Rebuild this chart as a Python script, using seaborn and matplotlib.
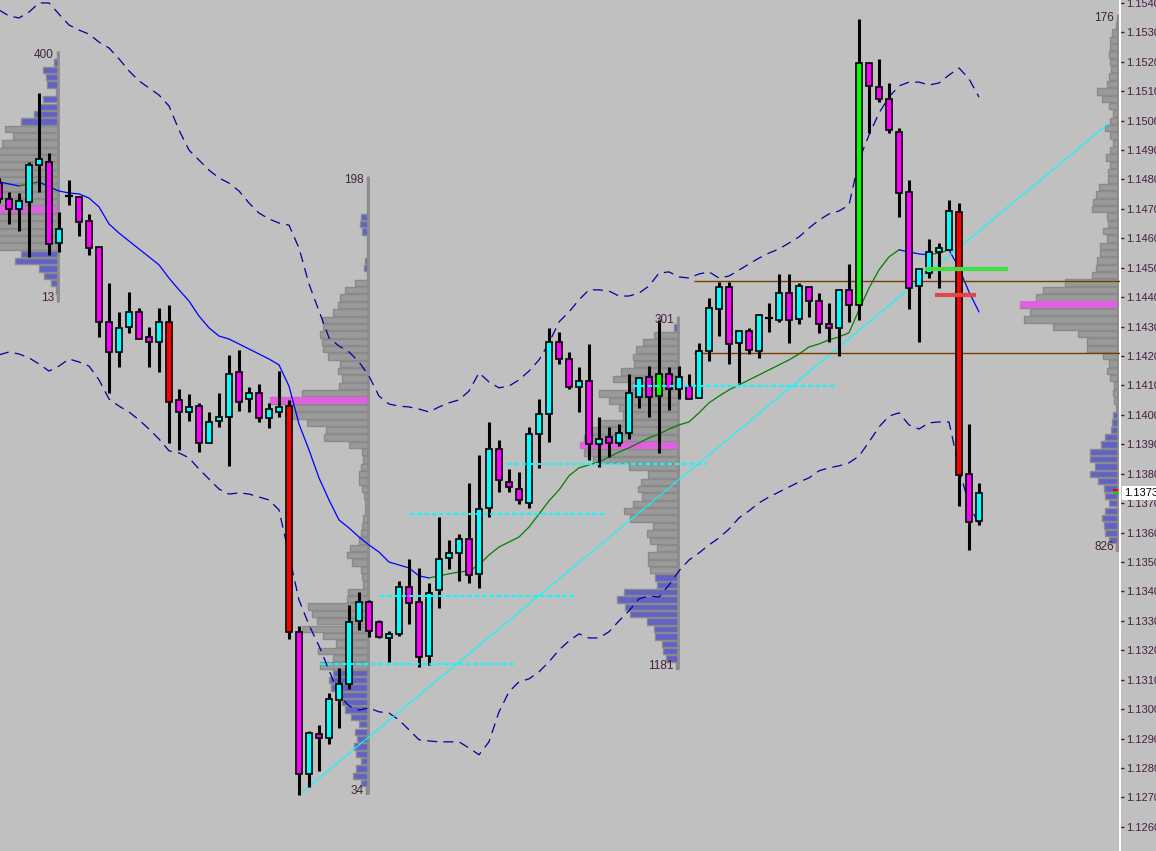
import numpy as np
import matplotlib
matplotlib.use("Agg")
import matplotlib.pyplot as plt
import matplotlib.transforms as mtransforms
import seaborn as sns

# ---------------------------------------------------------------- candles
opens = [
    1.14788, 1.14734, 1.14700, 1.14724, 1.14849, 1.14860, 1.14584, 1.14744, 1.14741, 1.14659,
    1.14571, 1.14316, 1.14214, 1.14299, 1.14350, 1.14265, 1.14248, 1.14316, 1.14051, 1.14010,
    1.14030, 1.13905, 1.13979, 1.13993, 1.14146, 1.14054, 1.14075, 1.13990, 1.14010, 1.14030,
    1.13263, 1.12780, 1.12916, 1.12902, 1.13031, 1.13086, 1.13300, 1.13364, 1.13296, 1.13242,
    1.13256, 1.13415, 1.13364, 1.13181, 1.13405, 1.13514, 1.13531, 1.13579, 1.13460, 1.13684,
    1.13884, 1.13772, 1.13748, 1.13701, 1.13935, 1.14003, 1.14248, 1.14190, 1.14095, 1.14115,
    1.13901, 1.13925, 1.13905, 1.13939, 1.14061, 1.14129, 1.14064, 1.14139, 1.14088, 1.14098,
    1.14058, 1.14217, 1.14360, 1.14435, 1.14245, 1.14285, 1.14217, 1.14329, 1.14323, 1.14414,
    1.14326, 1.14435, 1.14387, 1.14309, 1.14296, 1.14425, 1.14374, 1.15196, 1.15114, 1.15074,
    1.14962, 1.14758, 1.14438, 1.14482, 1.14554, 1.14561, 1.14690, 1.13799, 1.13640]
highs = [
    1.14805, 1.14758, 1.14754, 1.14860, 1.15094, 1.14890, 1.14690, 1.14798, 1.14744, 1.14683,
    1.14571, 1.14448, 1.14350, 1.14418, 1.14363, 1.14299, 1.14363, 1.14374, 1.14088, 1.14071,
    1.14041, 1.14010, 1.14075, 1.14204, 1.14221, 1.14095, 1.14105, 1.14041, 1.14149, 1.14051,
    1.13283, 1.12926, 1.12946, 1.13055, 1.13140, 1.13354, 1.13398, 1.13371, 1.13303, 1.13266,
    1.13436, 1.13511, 1.13480, 1.13429, 1.13653, 1.13575, 1.13596, 1.13769, 1.13864, 1.13976,
    1.13915, 1.13816, 1.13806, 1.13959, 1.14054, 1.14296, 1.14282, 1.14214, 1.14163, 1.14241,
    1.13993, 1.13959, 1.13969, 1.14139, 1.14129, 1.14166, 1.14323, 1.14163, 1.14166, 1.14139,
    1.14245, 1.14397, 1.14452, 1.14452, 1.14285, 1.14296, 1.14343, 1.14380, 1.14479, 1.14479,
    1.14448, 1.14435, 1.14414, 1.14380, 1.14428, 1.14513, 1.15345, 1.15196, 1.15210, 1.15128,
    1.14975, 1.14798, 1.14496, 1.14598, 1.14584, 1.14730, 1.14720, 1.13969, 1.13769]
lows = [
    1.14720, 1.14649, 1.14625, 1.14537, 1.14758, 1.14544, 1.14554, 1.14713, 1.14608, 1.14544,
    1.14265, 1.14075, 1.14163, 1.14279, 1.14258, 1.14163, 1.14146, 1.13905, 1.13881, 1.13979,
    1.13874, 1.13905, 1.13959, 1.13827, 1.14013, 1.14010, 1.13976, 1.13956, 1.13993, 1.13239,
    1.12709, 1.12736, 1.12790, 1.12882, 1.12936, 1.13069, 1.13269, 1.13246, 1.13242, 1.13161,
    1.13249, 1.13290, 1.13144, 1.13150, 1.13344, 1.13477, 1.13436, 1.13429, 1.13412, 1.13653,
    1.13738, 1.13738, 1.13697, 1.13684, 1.13820, 1.13908, 1.14173, 1.14088, 1.14010, 1.13847,
    1.13823, 1.13857, 1.13895, 1.13918, 1.14024, 1.13993, 1.13871, 1.14017, 1.14054, 1.14054,
    1.14058, 1.14183, 1.14268, 1.14173, 1.14109, 1.14207, 1.14194, 1.14282, 1.14316, 1.14245,
    1.14309, 1.14333, 1.14279, 1.14248, 1.14200, 1.14316, 1.14323, 1.14958, 1.15063, 1.14958,
    1.14673, 1.14360, 1.14248, 1.14465, 1.14431, 1.14561, 1.13691, 1.13541, 1.13626]
closes = [
    1.14734, 1.14700, 1.14727, 1.14849, 1.14870, 1.14581, 1.14632, 1.14744, 1.14656, 1.14567,
    1.14316, 1.14214, 1.14296, 1.14350, 1.14258, 1.14248, 1.14316, 1.14044, 1.14010, 1.14027,
    1.13905, 1.13976, 1.13993, 1.14139, 1.14044, 1.14075, 1.13990, 1.14020, 1.14027, 1.13263,
    1.12780, 1.12919, 1.12902, 1.13035, 1.13086, 1.13296, 1.13364, 1.13266, 1.13246, 1.13256,
    1.13415, 1.13361, 1.13178, 1.13395, 1.13511, 1.13531, 1.13579, 1.13456, 1.13680, 1.13884,
    1.13779, 1.13755, 1.13711, 1.13935, 1.14003, 1.14248, 1.14190, 1.14095, 1.14115, 1.13901,
    1.13918, 1.13905, 1.13939, 1.14075, 1.14126, 1.14061, 1.14139, 1.14088, 1.14129, 1.14054,
    1.14217, 1.14363, 1.14435, 1.14241, 1.14285, 1.14221, 1.14340, 1.14329, 1.14414, 1.14323,
    1.14438, 1.14387, 1.14309, 1.14296, 1.14425, 1.14374, 1.15196, 1.15118, 1.15074, 1.14968,
    1.14754, 1.14431, 1.14496, 1.14554, 1.14567, 1.14693, 1.13796, 1.13636, 1.13735]
big_bear = [17, 29, 96]   # bars painted red
big_bull = [66, 86]       # bars painted green

# ---------------------------------------------------------------- bands
mid_line = [
    1.14792, 1.14785, 1.14778, 1.14785, 1.14792, 1.14775, 1.14761, 1.14754, 1.14751, 1.14737,
    1.14707, 1.14649, 1.14618, 1.14591, 1.14564, 1.14537, 1.14510, 1.14465, 1.14425, 1.14387,
    1.14336, 1.14296, 1.14268, 1.14258, 1.14241, 1.14224, 1.14207, 1.14190, 1.14170, 1.14098,
    1.13969, 1.13881, 1.13786, 1.13711, 1.13643, 1.13616, 1.13585, 1.13558, 1.13534, 1.13500,
    1.13490, 1.13480, 1.13453, 1.13446, 1.13453, 1.13460, 1.13466, 1.13470, 1.13490, 1.13524,
    1.13551, 1.13568, 1.13585, 1.13619, 1.13663, 1.13708, 1.13745, 1.13793, 1.13820, 1.13830,
    1.13840, 1.13857, 1.13874, 1.13888, 1.13905, 1.13922, 1.13935, 1.13952, 1.13966, 1.13976,
    1.14007, 1.14041, 1.14064, 1.14085, 1.14102, 1.14119, 1.14136, 1.14153, 1.14170, 1.14187,
    1.14207, 1.14231, 1.14241, 1.14255, 1.14265, 1.14279, 1.14357, 1.14431, 1.14493, 1.14537,
    1.14561, 1.14554, 1.14547, 1.14544, 1.14550, 1.14561, 1.14499, 1.14418, 1.14350]
upper_band = [
    1.15376, 1.15356, 1.15349, 1.15369, 1.15400, 1.15400, 1.15362, 1.15325, 1.15308, 1.15294,
    1.15267, 1.15247, 1.15210, 1.15169, 1.15135, 1.15111, 1.15087, 1.15050, 1.14968, 1.14900,
    1.14866, 1.14832, 1.14805, 1.14788, 1.14761, 1.14720, 1.14686, 1.14666, 1.14652, 1.14645,
    1.14567, 1.14445, 1.14353, 1.14262, 1.14234, 1.14214, 1.14180, 1.14132, 1.14064, 1.14037,
    1.14030, 1.14027, 1.14020, 1.14010, 1.14027, 1.14041, 1.14051, 1.14081, 1.14143, 1.14112,
    1.14092, 1.14098, 1.14119, 1.14149, 1.14187, 1.14245, 1.14316, 1.14350, 1.14391, 1.14425,
    1.14425, 1.14421, 1.14404, 1.14404, 1.14414, 1.14438, 1.14482, 1.14486, 1.14469, 1.14465,
    1.14479, 1.14486, 1.14465, 1.14472, 1.14492, 1.14513, 1.14533, 1.14550, 1.14564, 1.14584,
    1.14605, 1.14635, 1.14662, 1.14683, 1.14693, 1.14713, 1.14866, 1.14951, 1.15026, 1.15080,
    1.15118, 1.15131, 1.15131, 1.15121, 1.15128, 1.15155, 1.15179, 1.15142, 1.15080]
lower_band = [
    1.14204, 1.14214, 1.14207, 1.14194, 1.14173, 1.14149, 1.14166, 1.14190, 1.14180, 1.14166,
    1.14119, 1.14054, 1.14030, 1.14010, 1.13983, 1.13952, 1.13918, 1.13878, 1.13871, 1.13854,
    1.13816, 1.13782, 1.13748, 1.13731, 1.13735, 1.13731, 1.13721, 1.13711, 1.13677, 1.13524,
    1.13371, 1.13286, 1.13215, 1.13133, 1.13048, 1.13011, 1.12997, 1.13004, 1.12991, 1.12987,
    1.12963, 1.12930, 1.12896, 1.12892, 1.12889, 1.12889, 1.12889, 1.12868, 1.12845, 1.12889,
    1.12991, 1.13059, 1.13093, 1.13103, 1.13127, 1.13161, 1.13201, 1.13232, 1.13256, 1.13242,
    1.13242, 1.13263, 1.13300, 1.13334, 1.13375, 1.13385, 1.13381, 1.13422, 1.13470, 1.13507,
    1.13531, 1.13558, 1.13582, 1.13612, 1.13650, 1.13674, 1.13701, 1.13721, 1.13738, 1.13755,
    1.13772, 1.13786, 1.13810, 1.13820, 1.13827, 1.13837, 1.13860, 1.13908, 1.13959, 1.13996,
    1.14007, 1.13966, 1.13952, 1.13973, 1.13976, 1.13976, 1.13820, 1.13694, 1.13629]

# ---------------------------------------------------------------- volume profiles
BIN = 0.00025
p1_vol = [1, 4, 15, 12, 11, 2, 15, 19, 24, 37, 53, 45, 56, 64, 68, 72, 70, 75, 72, 66,
          70, 98, 72, 68, 70, 66, 62, 37, 43, 19, 14, 7, 2, 1]
p2_vol = [1, 1, 1, 1, 1, 7, 8, 6, 1, 1, 1, 3, 4, 1, 13, 23, 28, 30, 35, 46,
          45, 48, 46, 45, 40, 28, 30, 26, 29, 66, 98, 78, 76, 61, 42, 44, 19, 6, 5, 7,
          9, 9, 6, 4, 3, 3, 5, 6, 7, 9, 18, 21, 16, 7, 6, 5, 20, 21, 60, 56,
          51, 66, 45, 32, 50, 35, 48, 35, 39, 37, 28, 26, 23, 17, 9, 13, 11, 14, 12, 7,
          12, 15, 7, 2]
p3_vol = [1, 4, 24, 35, 42, 45, 44, 57, 65, 49, 79, 69, 59, 55, 80, 88, 94, 98, 94, 85,
          49, 30, 37, 40, 36, 45, 54, 48, 25, 31, 28, 21, 30, 30, 28, 23, 21, 54, 61, 53,
          48, 31, 24, 23, 16, 15, 12, 2]
p4_vol = [1, 2, 6, 8, 8, 9, 8, 7, 9, 11, 21, 16, 9, 5, 8, 13, 8, 5, 8, 12,
          8, 10, 10, 19, 22, 25, 26, 11, 10, 15, 11, 18, 18, 21, 22, 26, 53, 75, 82, 98,
          88, 94, 65, 40, 31, 31, 15, 9, 11, 8, 4, 5, 4, 2, 5, 6, 7, 13, 17, 28,
          28, 23, 28, 20, 14, 13, 9, 13, 16, 14, 13, 9, 2]
profile_vols = [p1_vol, p2_vol, p3_vol, p4_vol]
profile_right = [5.9, 36.9, 67.9, 111.9]          # bar index of the profile's right edge
profile_top = [1.15235, 1.14811, 1.14335, 1.15362]
profile_va = [(10, 26), (14, 66), (2, 34), (2, 53)]
profile_labels = [("400", "13"), ("198", "34"), ("301", "1181"), ("176", "826")]
PROFILE_SPAN = 9.8

# ---------------------------------------------------------------- levels
lvl_price = [1.14098, 1.13833, 1.13663, 1.13385, 1.13154]
lvl_start = [63.4, 50.8, 41.1, 38.1, 32.1]
lvl_end = [83.6, 70.7, 60.7, 57.7, 51.7]
trend_x = [30, 110.9]
trend_y = [1.12709, 1.14989]
va_lines = [1.14455, 1.14210]
va_start = 69.5
green_level, green_span = 1.14496, (92.6, 100.9)
red_level, red_span = 1.14408, (93.6, 97.7)
last_price = 1.13735

BG = "#c0c0c0"
CYAN, MAGENTA, RED, GREEN = "#00ffff", "#ff00ff", "#ff0000", "#00ff00"
TXT = "#45203f"

sns.set_theme(style="white")
plt.rcParams["font.family"] = ["Liberation Sans", "DejaVu Sans"]

fig = plt.figure(figsize=(11.56, 8.51), dpi=100, facecolor=BG)
ax = fig.add_axes([0, 0, 1120 / 1156, 1])
ax.set_facecolor(BG)

# volume profiles
for vols, right, top, (va_lo, va_hi), (lab_t, lab_b) in zip(
        profile_vols, profile_right, profile_top, profile_va, profile_labels):
    vols = np.array(vols, float)
    idx = np.arange(len(vols))
    centers = top - (idx + 0.5) * BIN
    length = vols / vols.max() * PROFILE_SPAN
    in_va = (idx >= va_lo) & (idx <= va_hi)
    fills = np.where(in_va, "#9a9a9a", "#6262c6")
    ax.barh(centers, -length, left=right, height=BIN * 0.86, color=fills,
            edgecolor="#8a8a8a", linewidth=1.0, zorder=1)
    poc = int(vols.argmax())
    ax.barh(centers[poc], -length[poc], left=right, height=BIN * 0.95,
            color="#e060e0", edgecolor="none", zorder=1.5)
    ax.vlines(right, top - len(vols) * BIN, top, color="#8c8c8c", lw=2, zorder=1.6)
    ax.text(right - 0.4, centers[0], lab_t, ha="right", va="center",
            fontsize=8.5, color=TXT, zorder=7)
    ax.text(right - 0.4, centers[-1], lab_b, ha="right", va="center",
            fontsize=8.5, color=TXT, zorder=7)

bars = np.arange(len(opens))

# bollinger bands
for band in (upper_band, lower_band):
    sns.lineplot(x=bars, y=band, ax=ax, color="#0000a0", lw=0.9,
                 linestyle=(0, (8, 5)), zorder=2)

# middle line, blue when falling and green when rising
mid = np.array(mid_line)
rising = np.diff(mid) > 0
start = 0
for j in range(1, len(rising) + 1):
    if j == len(rising) or rising[j] != rising[start]:
        seg = slice(start, j + 1)
        sns.lineplot(x=bars[seg], y=mid[seg], ax=ax,
                     color="#008000" if rising[start] else "#0000ff", lw=0.9, zorder=2.5)
        start = j

# trend line and value area lines
ax.plot(trend_x, trend_y, color=CYAN, lw=0.8, zorder=3)
ax.hlines(va_lines, va_start, 112.1, color="#7a3c00", lw=1.0, zorder=3)

# candles
o, h, l, c = map(np.array, (opens, highs, lows, closes))
colors = []
for i in bars:
    if c[i] > o[i]:
        colors.append(GREEN if i in big_bull else CYAN)
    elif c[i] < o[i]:
        colors.append(RED if i in big_bear else MAGENTA)
    else:
        colors.append("black")
ax.vlines(bars, l, h, color="black", lw=2.2, zorder=4)
ax.bar(bars, np.abs(c - o), bottom=np.minimum(o, c), width=0.62, color=colors,
       edgecolor="black", linewidth=1.2, zorder=5)
doji = bars[c == o]
ax.hlines(o[doji], doji - 0.4, doji + 0.4, color="black", lw=1.6, zorder=5)

# naked levels
for p, s, e in zip(lvl_price, lvl_start, lvl_end):
    ax.plot([s, e], [p, p], color=CYAN, lw=1.5, linestyle=(0, (2.2, 1.3)), zorder=6)

ax.plot(green_span, [green_level] * 2, color="#44dd44", lw=3, solid_capstyle="butt", zorder=6)
ax.plot(red_span, [red_level] * 2, color="#e04848", lw=3, solid_capstyle="butt", zorder=6)
ax.hlines(last_price + 0.0001, 111.4, 111.9, color="red", lw=1.5, zorder=6)
ax.hlines(last_price, 111.4, 111.9, color="#00dd00", lw=1.5, zorder=6)

# axes
ax.set_xlim(0.1, 112.1)
ax.set_ylim(1.12518, 1.15410)
ax.set_xlabel("")
ax.set_ylabel("")
ax.set_xticks([])
ticks = np.round(np.arange(1.1260, 1.15405, 0.001), 4)
ax.set_yticks(ticks)
ax.set_yticklabels([f"{t:.4f}" for t in ticks])
ax.yaxis.tick_right()
ax.tick_params(axis="y", direction="out", length=3, width=1, color=TXT,
               labelcolor=TXT, labelsize=8, pad=1.5)
for side in ("top", "bottom", "left"):
    ax.spines[side].set_visible(False)
ax.spines["right"].set_color("white")
ax.spines["right"].set_linewidth(1.5)

trans = mtransforms.blended_transform_factory(ax.transAxes, ax.transData)
ax.text(1.004, last_price, "1.1373", transform=trans, ha="left", va="center",
        fontsize=8, color="black", clip_on=False, zorder=8,
        bbox=dict(facecolor="white", edgecolor="none", pad=1.6))

fig.savefig("out.png", dpi=100, facecolor=BG)
